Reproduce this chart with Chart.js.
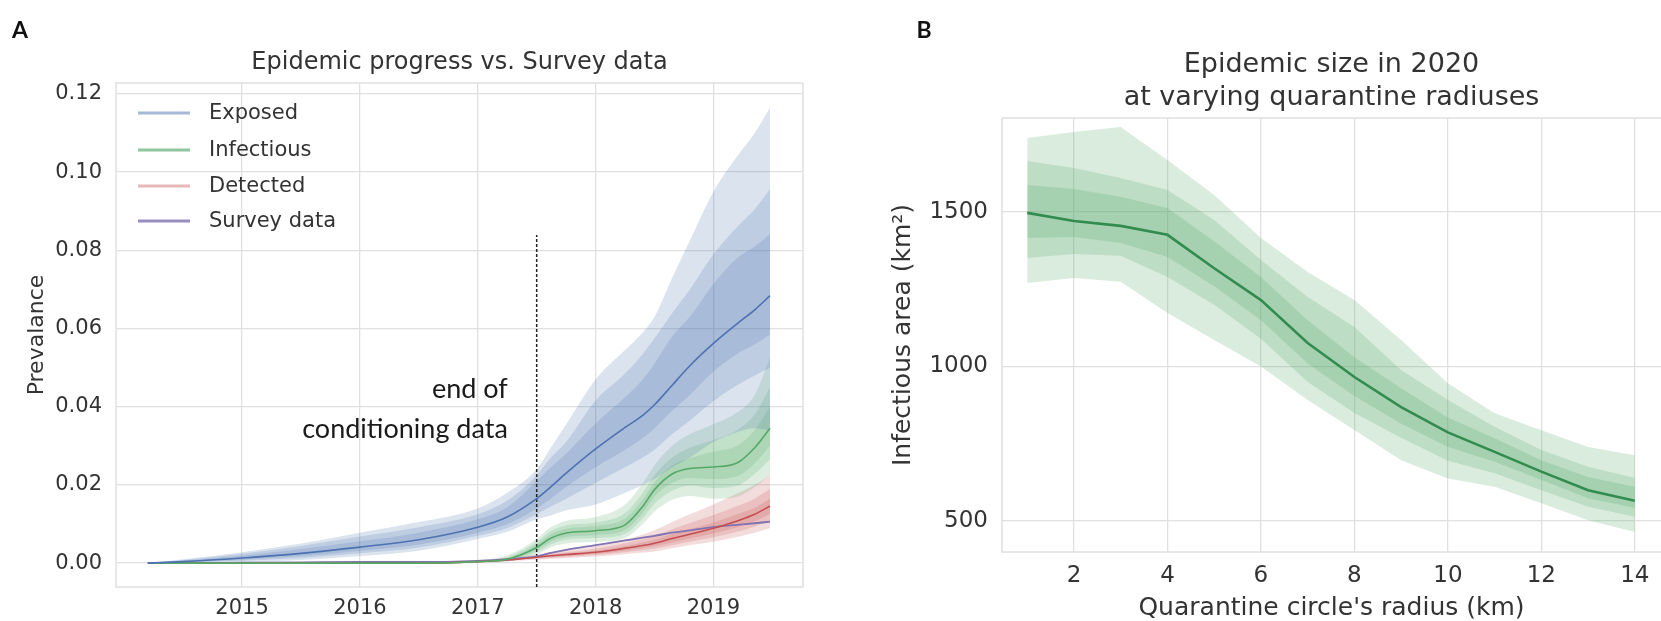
<!DOCTYPE html>
<html>
<head>
<meta charset="utf-8">
<script src="https://cdn.jsdelivr.net/npm/chart.js@4.4.1/dist/chart.umd.min.js"></script>
<style>
  html, body { margin: 0; padding: 0; background: #fff; }
  body { width: 1661px; height: 621px; position: relative; overflow: hidden; }
  .panel { position: absolute; top: 0; height: 621px; }
  #panelA { left: 0; width: 830px; }
  #panelB { left: 830px; width: 831px; }
</style>
</head>
<body>
<div id="panelA" class="panel"><canvas id="progressChart"></canvas></div>
<div id="panelB" class="panel"><canvas id="radiusChart"></canvas></div>
<script>
// ---- panel A: prevalence over time ----
const years = [2014.2, 2014.5, 2015, 2015.5, 2016, 2016.5, 2017, 2017.25, 2017.5, 2017.62, 2017.75,
  2018, 2018.25, 2018.4, 2018.5, 2018.65, 2018.8, 2019, 2019.2, 2019.35, 2019.48];
const yearTicks = [2015, 2016, 2017, 2018, 2019];
const prevalenceTicks = [0, 0.02, 0.04, 0.06, 0.08, 0.1, 0.12];

const exposedMedian = [0, 0.0004, 0.0013, 0.0025, 0.0041, 0.0060, 0.0092, 0.0118, 0.0165, 0.0195, 0.0230,
  0.0292, 0.0347, 0.0378, 0.0405, 0.0455, 0.0505, 0.0562, 0.0612, 0.0648, 0.0684];
const exposedOuterHi = [0, 0.0010, 0.0028, 0.0050, 0.0078, 0.0105, 0.0140, 0.0180, 0.0240, 0.0295, 0.0355,
  0.0470, 0.0545, 0.0590, 0.0630, 0.0730, 0.0825, 0.0950, 0.1040, 0.1100, 0.1165];
const exposedMidHi = [0, 0.0008, 0.0024, 0.0044, 0.0068, 0.0092, 0.0125, 0.0160, 0.0225, 0.0270, 0.0310,
  0.0416, 0.0485, 0.0535, 0.0575, 0.0640, 0.0700, 0.0790, 0.0860, 0.0905, 0.0957];
const exposedInnerHi = [0, 0.0006, 0.0019, 0.0036, 0.0056, 0.0078, 0.0112, 0.0143, 0.0210, 0.0245, 0.0280,
  0.0357, 0.0424, 0.0470, 0.0510, 0.0580, 0.0630, 0.0714, 0.0780, 0.0810, 0.0842];
const exposedInnerLo = [0, 0.0002, 0.0009, 0.0018, 0.0032, 0.0048, 0.0078, 0.0100, 0.0140, 0.0165, 0.0195,
  0.0245, 0.0290, 0.0320, 0.0345, 0.0390, 0.0430, 0.0490, 0.0535, 0.0560, 0.0585];
const exposedMidLo = [0, 0.0001, 0.0006, 0.0013, 0.0025, 0.0040, 0.0070, 0.0090, 0.0125, 0.0145, 0.0165,
  0.0205, 0.0245, 0.0270, 0.0290, 0.0330, 0.0365, 0.0415, 0.0455, 0.0480, 0.0500];
const exposedOuterLo = [0, 0, 0.0003, 0.0008, 0.0018, 0.0032, 0.0062, 0.0080, 0.0112, 0.0122, 0.0135,
  0.0150, 0.0180, 0.0200, 0.0215, 0.0245, 0.0270, 0.0310, 0.0335, 0.0345, 0.0340];

const infectiousMedian = [0, 0, 0, 0, 0, 0, 0.0004, 0.0010, 0.0040, 0.0064, 0.0077,
  0.0083, 0.0098, 0.0145, 0.0188, 0.0228, 0.0242, 0.0246, 0.0256, 0.0295, 0.0345];
const infectiousOuterHi = [0, 0, 0, 0, 0, 0, 0.0008, 0.0020, 0.0062, 0.0092, 0.0108,
  0.0118, 0.0150, 0.0205, 0.0250, 0.0300, 0.0330, 0.0355, 0.0385, 0.0430, 0.0525];
const infectiousMidHi = [0, 0, 0, 0, 0, 0, 0.0006, 0.0016, 0.0054, 0.0082, 0.0097,
  0.0104, 0.0128, 0.0180, 0.0225, 0.0270, 0.0295, 0.0315, 0.0340, 0.0380, 0.0450];
const infectiousInnerHi = [0, 0, 0, 0, 0, 0, 0.0005, 0.0013, 0.0048, 0.0074, 0.0088,
  0.0095, 0.0114, 0.0162, 0.0207, 0.0250, 0.0268, 0.0285, 0.0300, 0.0340, 0.0400];
const infectiousInnerLo = [0, 0, 0, 0, 0, 0, 0.0003, 0.0008, 0.0033, 0.0055, 0.0067,
  0.0072, 0.0085, 0.0128, 0.0170, 0.0205, 0.0218, 0.0215, 0.0222, 0.0255, 0.0300];
const infectiousMidLo = [0, 0, 0, 0, 0, 0, 0.0002, 0.0006, 0.0028, 0.0048, 0.0060,
  0.0064, 0.0075, 0.0115, 0.0152, 0.0185, 0.0198, 0.0192, 0.0198, 0.0228, 0.0265];
const infectiousOuterLo = [0, 0, 0, 0, 0, 0, 0.0001, 0.0004, 0.0022, 0.0040, 0.0050,
  0.0054, 0.0064, 0.0100, 0.0132, 0.0162, 0.0172, 0.0165, 0.0170, 0.0195, 0.0225];

const detectedMedian = [0, 0, 0, 0, 0, 0, 0.0004, 0.0008, 0.0015, 0.0019, 0.0022,
  0.0028, 0.0038, 0.0045, 0.0051, 0.0063, 0.0074, 0.0089, 0.0108, 0.0125, 0.0146];
const detectedOuterHi = [0, 0, 0, 0, 0, 0, 0.0006, 0.0012, 0.0022, 0.0028, 0.0033,
  0.0043, 0.0060, 0.0073, 0.0084, 0.0105, 0.0125, 0.0150, 0.0178, 0.0200, 0.0225];
const detectedMidHi = [0, 0, 0, 0, 0, 0, 0.0005, 0.0010, 0.0019, 0.0024, 0.0028,
  0.0037, 0.0051, 0.0061, 0.0070, 0.0087, 0.0103, 0.0123, 0.0146, 0.0165, 0.0190];
const detectedInnerHi = [0, 0, 0, 0, 0, 0, 0.0005, 0.0009, 0.0017, 0.0021, 0.0025,
  0.0032, 0.0044, 0.0053, 0.0060, 0.0074, 0.0087, 0.0104, 0.0125, 0.0142, 0.0165];
const detectedInnerLo = [0, 0, 0, 0, 0, 0, 0.0003, 0.0007, 0.0013, 0.0016, 0.0019,
  0.0024, 0.0032, 0.0038, 0.0043, 0.0053, 0.0063, 0.0076, 0.0092, 0.0107, 0.0126];
const detectedMidLo = [0, 0, 0, 0, 0, 0, 0.0003, 0.0006, 0.0011, 0.0014, 0.0016,
  0.0021, 0.0028, 0.0033, 0.0037, 0.0046, 0.0055, 0.0066, 0.0080, 0.0094, 0.0110];
const detectedOuterLo = [0, 0, 0, 0, 0, 0, 0.0002, 0.0005, 0.0009, 0.0011, 0.0013,
  0.0017, 0.0023, 0.0027, 0.0030, 0.0038, 0.0046, 0.0055, 0.0067, 0.0078, 0.0090];

const surveyData = [0, 0, 0.0001, 0.0002, 0.0003, 0.0003, 0.0006, 0.0010, 0.0017, 0.0026, 0.0034,
  0.0046, 0.0058, 0.0065, 0.0070, 0.0078, 0.0084, 0.0092, 0.0098, 0.0102, 0.0106];

const conditioningEnd = 2017.5;
const conditioningTop = 0.0839;

// ---- panel B: epidemic size vs quarantine radius ----
const radiusKm = [1, 2, 3, 4, 5, 6, 7, 8, 9, 10, 11, 12, 13, 14];
const radiusTicks = [2, 4, 6, 8, 10, 12, 14];
const areaTicks = [500, 1000, 1500];
const areaMedian = [1497, 1471, 1455, 1426, 1318, 1215, 1076, 966, 869, 787, 724, 660, 600, 566];
const areaOuterHi = [1739, 1759, 1775, 1668, 1555, 1416, 1306, 1215, 1086, 946, 849, 794, 740, 713];
const areaMidHi = [1665, 1642, 1610, 1571, 1474, 1345, 1225, 1128, 989, 892, 805, 730, 676, 639];
const areaInnerHi = [1587, 1574, 1549, 1513, 1405, 1290, 1150, 1030, 930, 835, 768, 697, 643, 611];
const areaInnerLo = [1416, 1419, 1400, 1354, 1260, 1150, 1010, 905, 815, 740, 692, 633, 574, 542];
const areaMidLo = [1351, 1364, 1358, 1290, 1200, 1090, 950, 850, 770, 695, 655, 600, 546, 514];
const areaOuterLo = [1270, 1286, 1274, 1173, 1086, 1000, 892, 795, 697, 638, 611, 558, 503, 465];

const FONT = "'DejaVu Sans', sans-serif";
const GRID = "#e0e0e0";
const TEXT = "#333333";
const colors = {
  blue: "76, 114, 176",
  green: "85, 168, 104",
  red: "196, 78, 82",
  purple: "129, 114, 178"
};

Chart.defaults.font.family = FONT;
Chart.defaults.color = TEXT;

function points(xs, ys) {
  return xs.map((x, i) => ({ x, y: ys[i] }));
}

// one band = invisible lower edge + upper edge filled down to it
function band(xs, lo, hi, rgb, alpha, smooth) {
  const base = {
    pointRadius: 0,
    borderWidth: 0,
    borderColor: "rgba(0,0,0,0)",
    cubicInterpolationMode: smooth ? "monotone" : "default",
    tension: 0
  };
  return [
    { ...base, data: points(xs, lo), fill: false },
    { ...base, data: points(xs, hi), fill: "-1", backgroundColor: `rgba(${rgb}, ${alpha})` }
  ];
}

function line(xs, ys, color, width, smooth) {
  return {
    data: points(xs, ys),
    borderColor: color,
    borderWidth: width,
    pointRadius: 0,
    fill: false,
    cubicInterpolationMode: smooth ? "monotone" : "default",
    tension: 0
  };
}

const fixedTicks = list => scale => { scale.ticks = list.map(value => ({ value })); };

const framePlugin = {
  id: "frame",
  beforeDatasetsDraw(chart, args, opts) {
    const { ctx, chartArea: a } = chart;
    ctx.save();
    ctx.strokeStyle = GRID;
    ctx.lineWidth = 1.5;
    ctx.beginPath();
    ctx.moveTo(a.right, a.top);
    ctx.lineTo(a.left, a.top);
    ctx.lineTo(a.left, a.bottom);
    ctx.lineTo(a.right, a.bottom);
    if (opts.closeRight) ctx.lineTo(a.right, a.top);
    ctx.stroke();
    ctx.restore();
  }
};

const labelsPlugin = {
  id: "labels",
  afterDraw(chart, args, opts) {
    const { ctx, chartArea: a, scales } = chart;
    ctx.save();
    ctx.fillStyle = "#111";
    ctx.font = "bold 23px Lato, sans-serif";
    ctx.textAlign = "center";
    ctx.textBaseline = "middle";
    ctx.fillText(opts.letter, opts.letterX, 31);

    (opts.legend || []).forEach((item, i) => {
      const y = a.top + item.dy;
      ctx.strokeStyle = item.color;
      ctx.lineWidth = 3;
      ctx.beginPath();
      ctx.moveTo(a.left + 22, y);
      ctx.lineTo(a.left + 74, y);
      ctx.stroke();
      ctx.fillStyle = TEXT;
      ctx.font = `21px ${FONT}`;
      ctx.textAlign = "left";
      ctx.fillText(item.text, a.left + 93, y + 1);
    });

    (opts.notes || []).forEach(note => {
      ctx.fillStyle = "#1a1a1a";
      ctx.font = "27px Lato, sans-serif";
      ctx.textAlign = "right";
      ctx.fillText(note.text, scales.x.getPixelForValue(note.x), scales.y.getPixelForValue(note.y));
    });
    ctx.restore();
  }
};

new Chart(document.getElementById("progressChart"), {
  type: "line",
  data: {
    datasets: [
      ...band(years, exposedOuterLo, exposedOuterHi, colors.blue, 0.2, true),
      ...band(years, exposedMidLo, exposedMidHi, colors.blue, 0.2, true),
      ...band(years, exposedInnerLo, exposedInnerHi, colors.blue, 0.2, true),
      ...band(years, infectiousOuterLo, infectiousOuterHi, colors.green, 0.2, true),
      ...band(years, infectiousMidLo, infectiousMidHi, colors.green, 0.2, true),
      ...band(years, infectiousInnerLo, infectiousInnerHi, colors.green, 0.2, true),
      ...band(years, detectedOuterLo, detectedOuterHi, colors.red, 0.2, true),
      ...band(years, detectedMidLo, detectedMidHi, colors.red, 0.2, true),
      ...band(years, detectedInnerLo, detectedInnerHi, colors.red, 0.2, true),
      line(years, exposedMedian, `rgb(${colors.blue})`, 1.6, true),
      line(years, infectiousMedian, `rgb(${colors.green})`, 1.6, true),
      line(years, detectedMedian, `rgb(${colors.red})`, 1.6, true),
      line(years, surveyData, `rgb(${colors.purple})`, 1.8, true),
      {
        data: [{ x: conditioningEnd, y: -0.0061 }, { x: conditioningEnd, y: conditioningTop }],
        borderColor: "#222",
        borderWidth: 1.5,
        borderDash: [3, 2],
        pointRadius: 0,
        fill: false
      }
    ]
  },
  options: {
    responsive: true,
    maintainAspectRatio: false,
    animation: false,
    events: [],
    layout: { padding: { left: 0, right: 27, top: 0, bottom: 0 } },
    scales: {
      x: {
        type: "linear",
        min: 2013.93,
        max: 2019.76,
        afterBuildTicks: fixedTicks(yearTicks),
        afterFit: scale => { scale.height = 34; },
        grid: { color: GRID, lineWidth: 1.3, drawTicks: false },
        border: { display: false },
        ticks: { padding: 9, font: { size: 21 }, color: TEXT, callback: v => String(v) }
      },
      y: {
        min: -0.0061,
        max: 0.1228,
        afterBuildTicks: fixedTicks(prevalenceTicks),
        afterFit: scale => { scale.width = 116; },
        grid: { color: GRID, lineWidth: 1.3, drawTicks: false },
        border: { display: false },
        ticks: { padding: 14, font: { size: 21 }, color: TEXT, callback: v => v.toFixed(2) },
        title: { display: true, text: "Prevalance", font: { size: 22 }, color: TEXT, padding: { top: 24 } }
      }
    },
    plugins: {
      legend: { display: false },
      tooltip: { enabled: false },
      filler: { drawTime: "beforeDatasetsDraw" },
      title: {
        display: true,
        fullSize: false,
        text: "Epidemic progress vs. Survey data",
        color: TEXT,
        font: { size: 24, weight: "normal", lineHeight: 1.2 },
        padding: { top: 48.6, bottom: 5.6 }
      },
      frame: { closeRight: true },
      labels: {
        letter: "A",
        letterX: 20,
        legend: [
          { text: "Exposed", color: "rgba(76, 114, 176, 0.5)", dy: 30 },
          { text: "Infectious", color: "rgba(85, 168, 104, 0.65)", dy: 67 },
          { text: "Detected", color: "rgba(196, 78, 82, 0.4)", dy: 103 },
          { text: "Survey data", color: "rgba(129, 114, 178, 0.8)", dy: 138 }
        ],
        notes: [
          { text: "end of", x: 2017.255, y: 0.0444 },
          { text: "conditioning data", x: 2017.255, y: 0.0342 }
        ]
      }
    }
  },
  plugins: [framePlugin, labelsPlugin]
});

new Chart(document.getElementById("radiusChart"), {
  type: "line",
  data: {
    datasets: [
      ...band(radiusKm, areaOuterLo, areaOuterHi, colors.green, 0.22, false),
      ...band(radiusKm, areaMidLo, areaMidHi, colors.green, 0.22, false),
      ...band(radiusKm, areaInnerLo, areaInnerHi, colors.green, 0.22, false),
      line(radiusKm, areaMedian, "rgb(50, 140, 80)", 2.6, false)
    ]
  },
  options: {
    responsive: true,
    maintainAspectRatio: false,
    animation: false,
    events: [],
    layout: { padding: { left: 0, right: 0, top: 0, bottom: 0 } },
    scales: {
      x: {
        type: "linear",
        min: 0.46,
        max: 14.56,
        afterBuildTicks: fixedTicks(radiusTicks),
        afterFit: scale => { scale.height = 69; },
        grid: { color: GRID, lineWidth: 1.3, drawTicks: false },
        border: { display: false },
        ticks: { padding: 10, font: { size: 23 }, color: TEXT, callback: v => String(v) },
        title: { display: true, text: "Quarantine circle's radius (km)", font: { size: 25, lineHeight: 1 }, color: TEXT, padding: { top: 0, bottom: 0.5 } }
      },
      y: {
        min: 400,
        max: 1804,
        afterBuildTicks: fixedTicks(areaTicks),
        afterFit: scale => { scale.width = 172; },
        grid: { color: GRID, lineWidth: 1.3, drawTicks: false },
        border: { display: false },
        ticks: { padding: 14, font: { size: 23 }, color: TEXT, callback: v => String(v) },
        title: { display: true, text: "Infectious area (km²)", font: { size: 25 }, color: TEXT, padding: { top: 58 } }
      }
    },
    plugins: {
      legend: { display: false },
      tooltip: { enabled: false },
      filler: { drawTime: "beforeDatasetsDraw" },
      title: {
        display: true,
        fullSize: false,
        text: ["Epidemic size in 2020", "at varying quarantine radiuses"],
        color: TEXT,
        font: { size: 27, weight: "normal", lineHeight: 33 / 27 },
        padding: { top: 48.5, bottom: 3.5 }
      },
      frame: { closeRight: false },
      labels: { letter: "B", letterX: 94 }
    }
  },
  plugins: [framePlugin, labelsPlugin]
});
</script>
</body>
</html>
